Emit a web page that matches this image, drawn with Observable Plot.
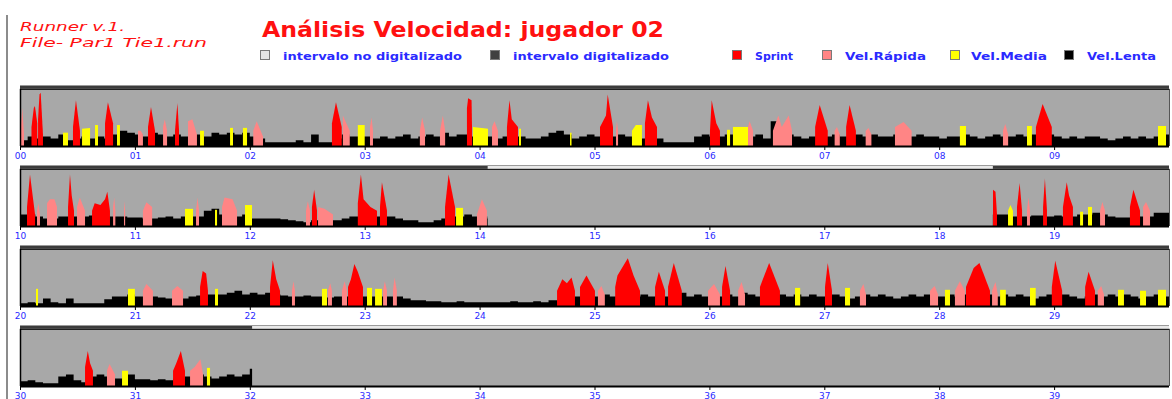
<!DOCTYPE html>
<html><head><meta charset="utf-8">
<script src="https://cdn.jsdelivr.net/npm/d3@7"></script>
<script src="https://cdn.jsdelivr.net/npm/@observablehq/plot@0.6"></script>
<style>
html,body{margin:0;padding:0;background:#fff;width:1172px;height:399px;overflow:hidden}
#root{position:relative;width:1172px;height:399px}
#marco{position:absolute;left:6px;top:15px;width:2px;height:384px;background:#8c8c8c}
#cab{position:absolute;left:0;top:0}
</style></head><body><div id="root"><div id="marco"></div><svg id="cab" width="1172" height="83"></svg></div>
<script>
// ---------- DATA ----------
const filas = [0, 10, 20, 30];                 // first minute of each row
const paso = 4 / 60;                          // sampling step of the slow trace (minutes)
const digitalizado = [[0, 14.07], [18.467, 32.02]];
const categorias = ["Sprint", "Vel.Rápida", "Vel.Media", "Vel.Lenta"];

// slow-speed (black) trace, km/h, one value every 4 s
const lenta00 = [
 3,5,4,5,4,6,3,4,5,4,5,4,6,8,7,
 6,5,7,6,5,6,5,4,6,5,7,6,7,6,7,
 5,4,2,2,2,2,3,2,6,2,2,4,6,5,5,
 5,4,5,4,5,6,4,5,6,5,7,5,6,6,5,
 5,5,4,5,4,5,4,4,5,7,8,6,4,5,6,
 5,6,5,6,5,5,4,5,4,2,2,2,2,5,6,
 5,5,6,6,5,5,6,4,13,5,6,5,4,5,5,
 5,6,5,5,6,5,6,5,5,6,4,5,6,5,5,
 4,5,5,6,5,4,5,6,5,5,6,5,6,5,6,
 5,4,5,4,5,5,4,3,4,5,4,5,4,5,6];
const lenta10 = [
 6,6,5,4,4,5,5,5,5,5.5,5,5,5,5,4.5,
 4.5,4,4,4.5,5,4,5,5,5,8,9,6,5,5,6,
 4,4,4,4,3.5,3,2.5,2,3,4,3,3,4,5,5,
 6,5,5,5,4,3,3,2,2,3,4,5,5,6,5,
 5,4];
const lenta18 = [6,6,5,5,5,5.5,5.5,5,5.5,5,5,6,6,7,6,5,4.5,4.5,5,5,5,7,7];
const lenta20 = [
 1.5,2,1.5,4,2,1.5,4,1.5,1.5,1.5,1.5,3.5,5,5,6,
 5,5,5,4.5,4,4,4,5,5.5,6,6,6,7,8,6,
 7,6,7,6,5.5,5,5,5.5,5,5,4.5,5,5,5,5,
 5,5,5,5,5,4,3,3,2.5,2.5,2,2,2.5,2,2,
 2,2,2,2,2.5,2,2,2.5,2,3,3,4,5,5,6,
 5,6,5,6,7,5,6,5,6,5,6,7,5,6,5,
 6,5,6,5,7,6,5,6,5,6,5,6,5,6,5,
 5,6,5,4,5,6,5,6,5,4,5,6,5,6,5,
 5,6,5,6,7,5,6,5,6,5,6,5,4,5,6,
 5,6,5,4,5,6,5,6,5,6,5,4,5,6,5];
const lenta30 = [
 2.5,3,2,1.5,1.5,5,6,3,2,5,6,5,4,4,6,
 3.5,3.5,3,3.5,3,4,5,5,6,5,4,5,6,5,6,
 9];
const tramos = [[0, 10, lenta00], [10, 14.07, lenta10], [18.467, 20, lenta18], [20, 30, lenta20], [30, 32.02, lenta30]];

// fast efforts: pairs of (minute, km/h)
const sprint = [
 [0.10,10, 0.12,20, 0.13,21, 0.15,12],
 [0.157,14, 0.17,27, 0.18,28, 0.2,6],
 [0.461,10, 0.487,24, 0.522,8],
 [0.74,12, 0.765,23, 0.81,12],
 [1.114,10, 1.14,20.5, 1.175,8],
 [1.349,8, 1.37,22.5, 1.384,8],
 [2.715,12, 2.75,23, 2.8,10],
 [3.89,20, 3.9,25, 3.93,24, 3.934,10],
 [4.238,10, 4.26,24, 4.28,14, 4.334,10],
 [5.048,10, 5.1,16, 5.115,27, 5.161,10],
 [5.439,12, 5.465,24, 5.5,15, 5.544,10],
 [6.005,8, 6.02,24, 6.06,12, 6.092,8],
 [6.92,10, 6.96,21.5, 7.03,8],
 [7.19,10, 7.22,21.5, 7.275,8],
 [8.842,10, 8.9,22, 8.98,10],
 [10.061,10, 10.087,27, 10.11,16, 10.131,6],
 [10.418,10, 10.435,27, 10.45,16, 10.47,8],
 [10.627,8, 10.65,12, 10.7,11, 10.74,14, 10.76,18, 10.783,8],
 [12.541,10, 12.56,19, 12.585,8],
 [12.94,12, 12.967,27, 12.99,14, 13.05,10, 13.107,8],
 [13.133,10, 13.15,23, 13.194,8],
 [13.699,10, 13.73,27, 13.786,10],
 [18.468,19, 18.49,18, 18.503,6],
 [18.677,10, 18.7,22.5, 18.721,8],
 [18.904,10, 18.92,25, 18.938,8],
 [19.077,10, 19.11,23, 19.13,16, 19.164,10],
 [19.66,10, 19.69,19, 19.748,8],
 [21.567,10, 21.59,18.4, 21.62,17, 21.636,8],
 [22.176,10, 22.2,24, 22.23,14, 22.263,8],
 [22.855,10, 22.88,14, 22.91,22, 22.94,18, 22.985,10],
 [24.674,8, 24.72,14, 24.76,12, 24.8,15, 24.83,8],
 [24.874,10, 24.93,16, 25.004,8],
 [25.18,10, 25.2,16, 25.29,25, 25.34,16, 25.396,8],
 [25.527,10, 25.56,18, 25.614,8],
 [25.64,10, 25.69,22.6, 25.76,8],
 [26.11,10, 26.14,21, 26.18,8],
 [26.44,10, 26.52,22.6, 26.614,8],
 [27.006,10, 27.03,22.6, 27.067,8],
 [28.233,10, 28.3,20, 28.35,22.6, 28.442,8],
 [28.98,10, 29.01,23.7, 29.07,8],
 [29.27,10, 29.3,18, 29.356,8],
 [30.566,10, 30.59,18.4, 30.61,12, 30.635,8],
 [31.332,8, 31.36,12, 31.4,18.4, 31.436,8]];
const rapida = [
 [0.005,8, 0.02,20, 0.035,6],
 [1.027,8, 1.05,8, 1.07,6],
 [1.245,10, 1.26,14, 1.28,8],
 [1.462,13, 1.5,14, 1.54,6],
 [2.03,8, 2.06,13, 2.115,5],
 [2.81,16, 2.84,12, 2.87,8],
 [3.046,10, 3.06,15, 3.072,8],
 [3.48,8, 3.5,15, 3.525,8],
 [3.655,8, 3.68,16, 3.7,8],
 [4.108,10, 4.13,13, 4.16,8],
 [5.187,8, 5.195,13, 5.205,8],
 [6.336,10, 6.35,13, 6.38,8],
 [6.553,8, 6.6,16, 6.63,10, 6.69,16, 6.719,8],
 [7.09,8, 7.11,10, 7.135,6],
 [7.36,8, 7.385,9.5, 7.41,6],
 [7.615,10, 7.69,12.6, 7.76,8],
 [8.555,8, 8.575,11.5, 8.6,6],
 [10.148,8, 10.16,12, 10.174,6],
 [10.235,12, 10.26,14, 10.3,14, 10.322,10],
 [10.496,10, 10.52,15, 10.566,8],
 [10.81,10, 10.82,15, 10.83,8],
 [10.905,8, 10.91,13, 10.915,8],
 [11.07,8, 11.1,12.5, 11.15,10],
 [11.532,8, 11.545,15, 11.558,8],
 [11.758,10, 11.78,15, 11.85,14, 11.889,8],
 [12.489,8, 12.505,13, 12.524,8],
 [12.594,10, 12.65,9, 12.724,6],
 [13.977,6, 14.02,14, 14.064,8],
 [18.764,8, 18.777,15, 18.79,8],
 [19.4,8, 19.42,12.6, 19.443,8],
 [19.774,10, 19.8,12.6, 19.835,8],
 [21.07,8, 21.1,11.5, 21.157,8],
 [21.323,8, 21.37,10.5, 21.419,8],
 [22.367,8, 22.38,13, 22.393,8],
 [22.68,8, 22.7,12, 22.715,8],
 [22.802,8, 22.825,13, 22.846,8],
 [23.16,8, 23.175,13, 23.194,8],
 [23.246,8, 23.26,15, 23.28,8],
 [25.03,8, 25.06,10.5, 25.09,6],
 [25.988,8, 26.04,11.5, 26.092,6],
 [26.25,8, 26.28,12.6, 26.31,6],
 [27.31,8, 27.34,11.5, 27.363,6],
 [27.92,8, 27.96,10.5, 27.99,6],
 [28.137,8, 28.18,13, 28.224,8],
 [28.46,8, 28.49,12.6, 28.51,6],
 [29.38,8, 29.41,10.5, 29.434,6],
 [30.757,8, 30.78,11.5, 30.827,6],
 [31.48,8, 31.52,10, 31.57,14, 31.593,6]];
const media = [
 [0.374,7, 0.418,7],
 [0.54,9, 0.61,9.5],
 [0.653,11, 0.679,11],
 [0.844,11, 0.87,11],
 [1.567,8, 1.601,8],
 [1.828,9.5, 1.854,9.5],
 [1.94,9.5, 1.976,9.5],
 [2.94,11, 3.0,11],
 [3.942,10, 4.073,9],
 [4.343,9, 4.36,9],
 [4.787,7, 4.8,7],
 [5.326,8, 5.36,11, 5.413,11],
 [6.153,8.5, 6.18,8.5],
 [6.205,10, 6.336,10],
 [8.18,10.5, 8.233,10.5],
 [8.764,10.5, 8.807,10.5],
 [9.904,10.5, 9.974,10.5],
 [11.436,9, 11.506,9],
 [11.697,8.5, 11.715,8.5],
 [11.958,11, 12.019,11],
 [13.795,9.5, 13.856,9.5],
 [18.599,8, 18.62,11, 18.642,8],
 [19.226,7.5, 19.252,7.5],
 [19.295,10, 19.33,10],
 [20.139,9, 20.157,9],
 [20.94,9, 21.0,9],
 [21.697,9, 21.723,9],
 [22.628,9, 22.672,9],
 [23.02,9.5, 23.064,9.5],
 [23.09,9, 23.15,9],
 [26.745,9.5, 26.79,9.5],
 [27.18,9.5, 27.224,9.5],
 [28.05,8.5, 28.094,8.5],
 [28.53,8.5, 28.58,8.5],
 [28.79,9.5, 28.84,9.5],
 [29.556,8.5, 29.608,8.5],
 [29.748,8, 29.8,8],
 [29.904,8.5, 29.974,8.5],
 [30.888,8, 30.94,8],
 [31.627,9.5, 31.654,9.5]];

// ---------- HEADER ----------
const rojo = "#ff1010", azul = "#2a2aff";
const colores = {"Sprint": "#ff0000", "Vel.Rápida": "#ff8585", "Vel.Media": "#ffff00", "Vel.Lenta": "#000000"};
const cab = d3.select("#cab");
function texto(s, x, y, size, len, fill, weight, style) {
  cab.append("text").attr("x", x).attr("y", y).attr("font-family", "DejaVu Sans")
    .attr("font-size", size).attr("font-weight", weight).attr("font-style", style)
    .attr("fill", fill).attr("textLength", len).attr("lengthAdjust", "spacingAndGlyphs").text(s);
}
texto("Runner v.1.", 20, 31, 12, 105, rojo, "normal", "italic");
texto("File- Par1 Tie1.run", 20, 47, 12, 187, rojo, "normal", "italic");
texto("Análisis Velocidad: jugador 02", 262, 37, 21, 402, rojo, "bold", "normal");
const leyenda = [
  ["intervalo no digitalizado", 260, 283, 179, "#e6e6e6"],
  ["intervalo digitalizado", 490, 513, 156, "#404040"],
  ["Sprint", 732, 755, 38, colores["Sprint"]],
  ["Vel.Rápida", 822, 845, 81, colores["Vel.Rápida"]],
  ["Vel.Media", 950, 971, 76, colores["Vel.Media"]],
  ["Vel.Lenta", 1064, 1087, 69, colores["Vel.Lenta"]]];
for (const [s, xs, xt, len, c] of leyenda) {
  cab.append("rect").attr("x", xs + 0.5).attr("y", 50.5).attr("width", 9).attr("height", 9)
    .attr("fill", c).attr("stroke", "#7a7a7a").attr("stroke-width", 1);
  texto(s, xt, 59.5, 11, len, azul, "bold", "normal");
}

// ---------- ROWS ----------
const negro = [];
tramos.forEach(([ini, fin, vals], s) => {
  vals.forEach((v, i) => negro.push({t: ini + i * paso, v, seg: s}));
  negro.push({t: fin, v: vals[vals.length - 1], seg: s});
});
function puntos(lista, cat, x0) {
  const out = [];
  lista.forEach((ev, i) => {
    if (ev[0] < x0 || ev[0] >= x0 + 10) return;
    for (let k = 0; k < ev.length; k += 2) out.push({t: ev[k], v: ev[k + 1], id: cat + i});
  });
  return out;
}
const root = document.getElementById("root");
filas.forEach((x0, r) => {
  const x1 = x0 + 10;
  const dig = digitalizado.filter(d => d[1] > x0 && d[0] < x1).map(d => [Math.max(d[0], x0), Math.min(d[1], x1)]);
  const chart = Plot.plot({
    width: 1172, height: 80,
    marginLeft: 20, marginRight: 3, marginTop: 2, marginBottom: 17,
    x: {domain: [x0, x1]},
    y: {domain: [0, 32], axis: null},
    style: {fontFamily: "DejaVu Sans", fontSize: "9px", background: "transparent", overflow: "visible"},
    marks: [
      Plot.rect([x0], {x1: () => x0, x2: () => x1, y1: () => 0, y2: () => 30, fill: "#a8a8a8"}),
      Plot.rect([x0], {x1: () => x0, x2: () => x1, y1: () => 30, y2: () => 32, fill: "#e8e8e8"}),
      Plot.rect(dig, {x1: d => d[0], x2: d => d[1], y1: () => 30, y2: () => 32, fill: "#3c3c3c"}),
      Plot.ruleY([32], {stroke: "#9a9a9a", strokeWidth: 1}),
      Plot.ruleY([30], {stroke: "#000", strokeWidth: 1}),
      Plot.areaY(negro.filter(d => d.t >= x0 && d.t <= x1), {x: "t", y1: 0, y2: "v", z: "seg", fill: colores["Vel.Lenta"], curve: "step-after"}),
      Plot.areaY(puntos(media, "m", x0), {x: "t", y1: 0, y2: "v", z: "id", fill: colores["Vel.Media"], curve: "linear"}),
      Plot.areaY(puntos(rapida, "r", x0), {x: "t", y1: 0, y2: "v", z: "id", fill: colores["Vel.Rápida"], curve: "linear"}),
      Plot.areaY(puntos(sprint, "s", x0), {x: "t", y1: 0, y2: "v", z: "id", fill: colores["Sprint"], curve: "linear"}),
      Plot.ruleX([x0], {y1: 0, y2: 30, stroke: "#000", strokeWidth: 1.5}),
      Plot.ruleX([x1], {y1: 0, y2: 30, stroke: "#555", strokeWidth: 1}),
      Plot.ruleY([0], {stroke: "#000", strokeWidth: 2}),
      Plot.axisX({ticks: d3.range(x0, x1), tickFormat: d => String(d).padStart(2, "0"),
        tickSize: 4, tickPadding: 2, color: azul, stroke: "#000", label: null, fontSize: 9})
    ]
  });
  chart.style.position = "absolute";
  chart.style.left = "0px";
  chart.style.top = (83 + 80 * r) + "px";
  root.appendChild(chart);
});
</script></body></html>
